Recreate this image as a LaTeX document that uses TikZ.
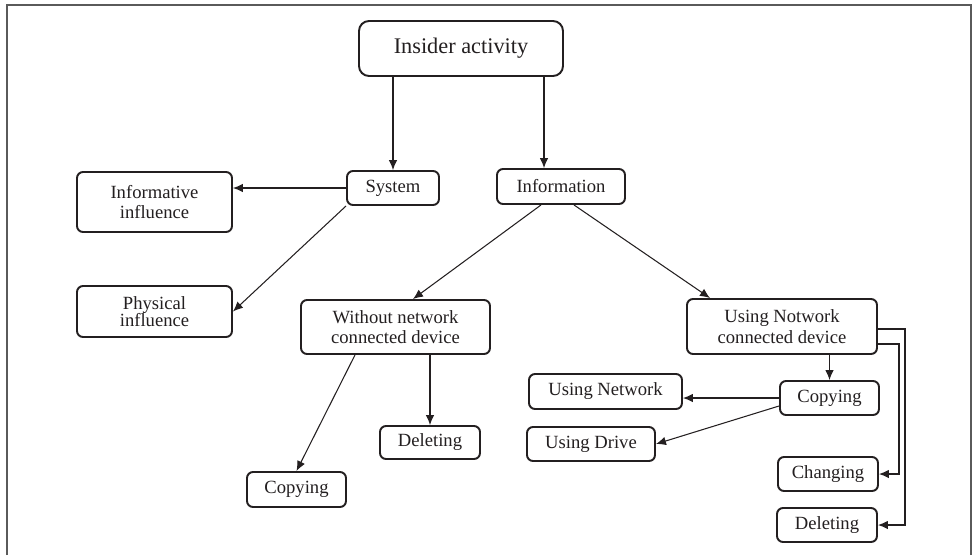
\documentclass[tikz,border=0pt]{standalone}
\usepackage{fontspec}
\setmainfont{Liberation Serif}
\usetikzlibrary{arrows.meta,calc}
\definecolor{ink}{HTML}{231F20}
\definecolor{frame}{HTML}{5A5A5A}

\begin{document}
\begin{tikzpicture}[x=1cm,y=1cm,font=\fontsize{10.6}{11.8}\selectfont,text=ink,
 box/.style={draw=ink,rounded corners=1.2mm,line width=1.1pt,fill=white,align=center,inner sep=1pt},
 arrow/.style={-{Latex[length=2mm,width=1.7mm]},draw=ink,line width=.6pt}]
\path[use as bounding box] (0,0) rectangle (19.46,11.1);
\draw[frame,line width=.6pt] (0.14,0)--(0.14,11.0)--(19.42,11.0)--(19.42,0);
% top levels
\node[box,minimum width=4.08cm,minimum height=1.1cm,rounded corners=2mm,font=\fontsize{12.7}{14}\selectfont] (insider) at (9.22,10.13) {Insider activity};
\node[box,minimum width=1.84cm,minimum height=.68cm] (system) at (7.86,7.34) {System};
\node[box,minimum width=2.56cm,minimum height=.70cm] (information) at (11.22,7.37) {Information};
\node[box,minimum width=3.10cm,minimum height=1.20cm] (informative) at (3.09,7.06) {Informative\\influence};
\node[box,minimum width=3.10cm,minimum height=1.02cm] (physical) at (3.09,4.87) {Physical\\[-2.5pt]influence};
% devices
\node[box,minimum width=3.78cm,minimum height=1.08cm] (without) at (7.91,4.56) {Without network\\connected device};
\node[box,minimum width=3.80cm,minimum height=1.10cm] (usingdev) at (15.64,4.57) {Using Notwork\\connected device};
% actions
\node[box,minimum width=1.98cm,minimum height=.70cm] (copyA) at (5.93,1.31) {Copying};
\node[box,minimum width=2.00cm,minimum height=.66cm] (deleteA) at (8.60,2.25) {Deleting};
\node[box,minimum width=1.98cm,minimum height=.68cm] (copyB) at (16.59,3.14) {Copying};
\node[box,minimum width=3.06cm,minimum height=.70cm] (usingnet) at (12.11,3.27) {Using Network};
\node[box,minimum width=2.56cm,minimum height=.68cm] (usingdrive) at (11.82,2.22) {Using Drive};
\node[box,minimum width=2.00cm,minimum height=.68cm] (changing) at (16.56,1.62) {Changing};
\node[box,minimum width=2.00cm,minimum height=.68cm] (deleteB) at (16.54,0.60) {Deleting};
% connectors
\coordinate (infoin) at ([xshift=-3.4mm]information.north);
\draw[arrow] (system.north |- insider.south)--(system.north);
\draw[arrow] (infoin |- insider.south)--(infoin);
\draw[arrow] (system.west)--(system.west -| informative.east);
\draw[arrow] (system.south west)--(physical.east);
\draw[arrow] ([xshift=-4mm]information.south)--([xshift=3.5mm]without.north);
\draw[arrow] ([xshift=2.6mm]information.south)--([xshift=-14.4mm]usingdev.north);
\draw[arrow] ([xshift=-8.1mm]without.south)--(copyA.north);
\draw[arrow] (deleteA.north |- without.south)--(deleteA.north);
\draw[arrow] (copyB.north |- usingdev.south)--(copyB.north);
\draw[arrow] (copyB.west)--(copyB.west -| usingnet.east);
\draw[arrow] ([yshift=-1.6mm]copyB.west)--(usingdrive.east);
\draw[arrow] ([yshift=-3.5mm]usingdev.east)--++(.42,0)|-(changing.east);
\draw[arrow] ([yshift=-.5mm]usingdev.east)--++(.54,0)|-(deleteB.east);
\end{tikzpicture}
\end{document}
